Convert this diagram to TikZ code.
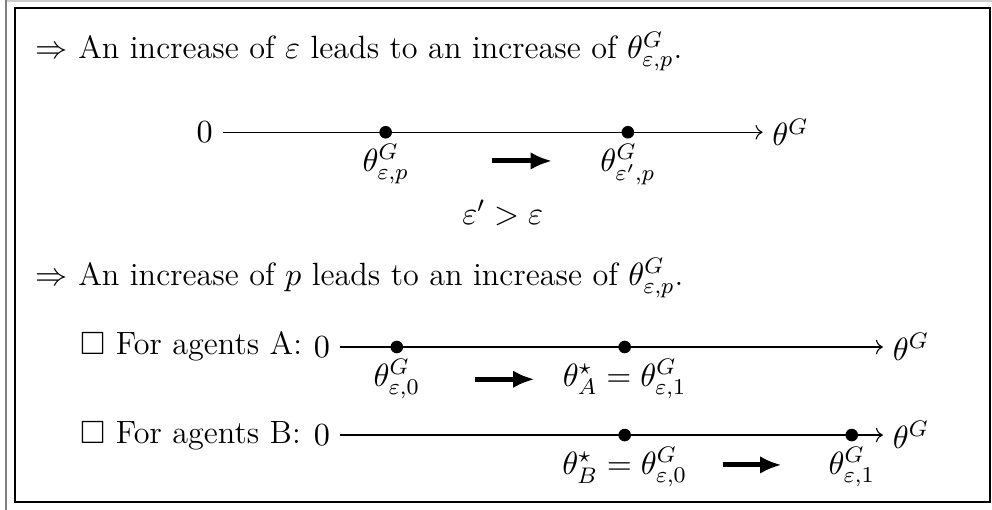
\RequirePackage{fix-cm}
\documentclass[tikz,border=0pt]{standalone}
\usepackage{amsmath,amssymb}
\usetikzlibrary{arrows.meta,positioning}
\tikzset{
  bigarrow/.style={-{Latex[length=2.7mm,width=2.2mm]}, line width=1.8pt},
  txt/.style={anchor=base west, inner sep=0pt},
  lbl/.style={below=0.75pt of #1},
}
\begin{document}
\begin{tikzpicture}[font=\fontsize{11.5}{14}\selectfont]
\useasboundingbox (0,0) rectangle (12.45,6.40);
% frame
\draw[black!20, line width=0.8pt] (0.08,6.39) -- (12.45,6.39);
\draw[black!50, line width=0.8pt] (0.08,0) -- (0.08,6.40);
\draw[line width=0.7pt] (0.19,0.10) rectangle (12.42,6.30);
% effect of epsilon
\node[txt] (t1) at (0.44,5.66) {$\Rightarrow$ An increase of $\varepsilon$ leads to an increase of $\theta^G_{\varepsilon,p}$.};
\node (z1) at (2.57,4.74) {$0$};
\coordinate (e1) at (9.57,4.74);
\draw[->] (z1) -- (e1) node[right] (g1) {$\theta^G$};
\coordinate (d1) at (4.84,4.74);
\coordinate (d2) at (7.88,4.74);
\foreach \p in {d1,d2}{\fill (\p) circle (2.25pt);}
\node[lbl=d1] (l1) {$\theta^G_{\varepsilon,p}$};
\node[lbl=d2] (l2) {$\theta^G_{\varepsilon',p}$};
\coordinate (a1s) at (6.17,4.38);
\coordinate (a1e) at (6.93,4.38);
\draw[bigarrow] (a1s) -- (a1e);
\node (c1) at (6.31,3.73) {$\varepsilon' > \varepsilon$};
% effect of p
\node[txt] (t2) at (0.44,2.82) {$\Rightarrow$ An increase of $p$ leads to an increase of $\theta^G_{\varepsilon,p}$.};
% agents A
\node[txt] (ta) at (1.00,1.945) {$\square$ For agents A:};
\node (za) at (4.04,2.045) {$0$};
\coordinate (ea) at (11.08,2.045);
\draw[->] (za) -- (ea) node[right] (ga) {$\theta^G$};
\coordinate (da1) at (4.98,2.045);
\coordinate (da2) at (7.84,2.045);
\foreach \p in {da1,da2}{\fill (\p) circle (2.25pt);}
\node[lbl=da1] (la1) {$\theta^G_{\varepsilon,0}$};
\node[lbl=da2] (la2) {$\theta^\star_A = \theta^G_{\varepsilon,1}$};
\coordinate (aas) at (5.96,1.64);
\coordinate (aae) at (6.71,1.64);
\draw[bigarrow] (aas) -- (aae);
% agents B
\node[txt] (tb) at (1.00,0.84) {$\square$ For agents B:};
\node (zb) at (4.04,0.94) {$0$};
\coordinate (eb) at (11.08,0.94);
\draw[->] (zb) -- (eb) node[right] (gb) {$\theta^G$};
\coordinate (db1) at (7.84,0.94);
\coordinate (db2) at (10.69,0.94);
\foreach \p in {db1,db2}{\fill (\p) circle (2.25pt);}
\node[lbl=db1] (lb1) {$\theta^\star_B = \theta^G_{\varepsilon,0}$};
\node[lbl=db2] (lb2) {$\theta^G_{\varepsilon,1}$};
\coordinate (abs) at (9.07,0.565);
\coordinate (abe) at (9.81,0.565);
\draw[bigarrow] (abs) -- (abe);
\end{tikzpicture}
\end{document}
